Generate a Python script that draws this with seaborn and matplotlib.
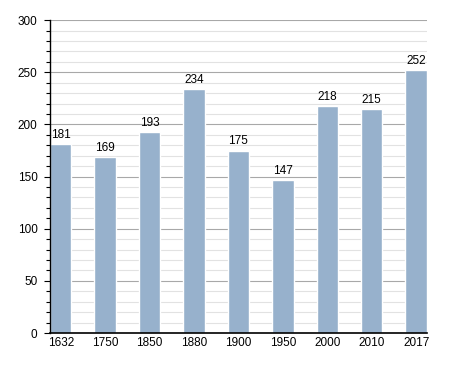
import matplotlib
matplotlib.use("Agg")
import matplotlib.pyplot as plt
import seaborn as sns
import pandas as pd
from matplotlib.ticker import MultipleLocator

years = ["1632", "1750", "1850", "1880", "1900", "1950", "2000", "2010", "2017"]
population = [181, 169, 193, 234, 175, 147, 218, 215, 252]

sns.set_theme(style="white")
plt.rcParams['font.family'] = ['Liberation Sans', 'DejaVu Sans']

df = pd.DataFrame({"year": years, "pop": population})

fig = plt.figure(figsize=(4.55, 3.73), dpi=100)
ax = fig.add_axes([0.110, 0.107, 0.828, 0.839])

ax.yaxis.set_major_locator(MultipleLocator(50))
ax.yaxis.set_minor_locator(MultipleLocator(10))
ax.grid(which="minor", axis="y", color="#e2e2e2", linewidth=0.8, zorder=0)
ax.grid(which="major", axis="y", color="#a8a8a8", linewidth=0.8, zorder=0)
ax.set_axisbelow(True)

sns.barplot(data=df, x="year", y="pop", color="#97b1cc", saturation=1,
            width=0.48, ax=ax, zorder=2)

for i, v in enumerate(population):
    ax.text(i, v + 3, str(v), ha="center", va="bottom", fontsize=8.5, color="black")

ax.set_ylim(0, 300)
ax.set_xlim(-0.24, 8.24)
ax.set_xlabel("")
ax.set_ylabel("")
for s in ["top", "right"]:
    ax.spines[s].set_visible(False)
ax.spines["left"].set_color("black")
ax.spines["bottom"].set_color("black")
ax.spines["left"].set_linewidth(1.0)
ax.spines["bottom"].set_linewidth(1.2)
ax.tick_params(axis="y", which="major", left=True, length=4, width=0.8, color="black",
               labelsize=8.5, pad=5, labelcolor="black")
ax.tick_params(axis="y", which="minor", left=True, length=3, width=0.8, color="black")
ax.tick_params(axis="x", bottom=False, length=0, labelsize=8.5, pad=3, labelcolor="black")

fig.savefig("out.png", dpi=100)
